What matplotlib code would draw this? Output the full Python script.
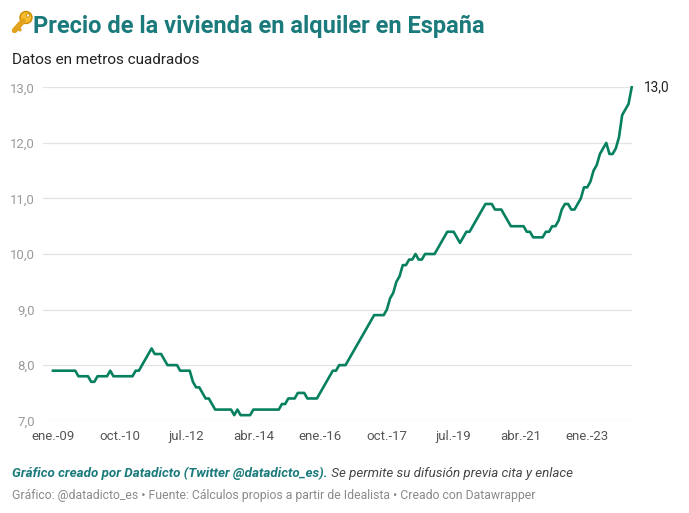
import numpy as np
import matplotlib
matplotlib.use("Agg")
import matplotlib.pyplot as plt
from matplotlib.patches import Circle

plt.rcParams['font.family'] = ['Roboto', 'DejaVu Sans']

# monthly rent price (EUR/m2), Jan 2009 .. Mar 2024
precio = [
    7.9, 7.9, 7.9, 7.9, 7.9, 7.9, 7.9, 7.9, 7.8, 7.8, 7.8, 7.8,
    7.7, 7.7, 7.8, 7.8, 7.8, 7.8, 7.9, 7.8, 7.8, 7.8, 7.8, 7.8,
    7.8, 7.8, 7.9, 7.9, 8.0, 8.1, 8.2, 8.3, 8.2, 8.2, 8.2, 8.1,
    8.0, 8.0, 8.0, 8.0, 7.9, 7.9, 7.9, 7.9, 7.7, 7.6, 7.6, 7.5,
    7.4, 7.4, 7.3, 7.2, 7.2, 7.2, 7.2, 7.2, 7.2, 7.1, 7.2, 7.1,
    7.1, 7.1, 7.1, 7.2, 7.2, 7.2, 7.2, 7.2, 7.2, 7.2, 7.2, 7.2,
    7.3, 7.3, 7.4, 7.4, 7.4, 7.5, 7.5, 7.5, 7.4, 7.4, 7.4, 7.4,
    7.5, 7.6, 7.7, 7.8, 7.9, 7.9, 8.0, 8.0, 8.0, 8.1, 8.2, 8.3,
    8.4, 8.5, 8.6, 8.7, 8.8, 8.9, 8.9, 8.9, 8.9, 9.0, 9.2, 9.3,
    9.5, 9.6, 9.8, 9.8, 9.9, 9.9, 10.0, 9.9, 9.9, 10.0, 10.0, 10.0,
    10.0, 10.1, 10.2, 10.3, 10.4, 10.4, 10.4, 10.3, 10.2, 10.3, 10.4, 10.4,
    10.5, 10.6, 10.7, 10.8, 10.9, 10.9, 10.9, 10.8, 10.8, 10.8, 10.7, 10.6,
    10.5, 10.5, 10.5, 10.5, 10.5, 10.4, 10.4, 10.3, 10.3, 10.3, 10.3, 10.4,
    10.4, 10.5, 10.5, 10.6, 10.8, 10.9, 10.9, 10.8, 10.8, 10.9, 11.0, 11.2,
    11.2, 11.3, 11.5, 11.6, 11.8, 11.9, 12.0, 11.8, 11.8, 11.9, 12.1, 12.5,
    12.6, 12.7, 13.0,
]
tick_meses = [0, 21, 42, 63, 84, 105, 126, 147, 168]
tick_labels = ["ene.-09", "oct.-10", "jul.-12", "abr.-14", "ene.-16",
               "oct.-17", "jul.-19", "abr.-21", "ene.-23"]
y_ticks = [7.0, 8.0, 9.0, 10.0, 11.0, 12.0, 13.0]

W, H = 689, 513
fig = plt.figure(figsize=(W / 100, H / 100), dpi=100)
fig.patch.set_facecolor("white")

teal = "#1b7a7b"
verde = "#07805f"

ax = fig.add_axes([43 / W, 1 - 420.7 / H, (631.7 - 43) / W, (420.7 - 87.3) / H])
meses = np.arange(len(precio))
ax.plot(meses, precio, color=verde, lw=1.9, clip_on=False, zorder=3,
        solid_joinstyle="round")
ax.set_xlim(-10 / 3.18, len(precio) - 1)
ax.set_ylim(7, 13)
ax.set_yticks(y_ticks)
ax.set_yticklabels([f"{v:.1f}".replace(".", ",") for v in y_ticks],
                   color="#9a9a9a", fontsize=9.5)
ax.set_xticks(tick_meses)
ax.set_xticklabels(tick_labels, color="#555555", fontsize=9.5)
ax.tick_params(axis="both", length=0)
ax.tick_params(axis="y", pad=6)
ax.tick_params(axis="x", pad=7)
ax.grid(axis="y", color="#e3e3e3", lw=0.9)
ax.set_axisbelow(True)
for s in ax.spines.values():
    s.set_visible(False)

# last value label
ax.annotate("13,0", xy=(meses[-1], precio[-1]), xytext=(9, 0),
            textcoords="offset points", va="center", ha="left",
            fontsize=9.8, color="#222222")

# key icon (emoji stand-in)
kax = fig.add_axes([12 / W, 1 - 33 / H, 21 / W, 23 / H])
kax.set_xlim(0, 21)
kax.set_ylim(0, 23)
kax.axis("off")
kax.plot([11, 2.5], [12, 2.5], color="#e2a21d", lw=4, solid_capstyle="round")
kax.plot([5.5, 8], [5.5, 3.2], color="#e2a21d", lw=2.5, solid_capstyle="round")
kax.add_patch(Circle((14, 15.5), 6, facecolor="#f6bd2f", edgecolor="#c98a00", lw=1))
kax.add_patch(Circle((16, 17.5), 1.6, facecolor="white", edgecolor="#c98a00", lw=0.6))

fig.text(33 / W, 1 - 33 / H, "Precio de la vivienda en alquiler en España",
         fontsize=17, fontweight="bold", color=teal, va="baseline", ha="left")
fig.text(12 / W, 1 - 64 / H, "Datos en metros cuadrados",
         fontsize=11, color="#222222", va="baseline", ha="left")

t1 = fig.text(12 / W, 1 - 477 / H,
              "Gráfico creado por Datadicto (Twitter @datadicto_es).",
              fontsize=9.6, fontweight="bold", fontstyle="italic", color=teal,
              va="baseline", ha="left")
fig.canvas.draw()
bb = t1.get_window_extent()
fig.text(bb.x1 / W, 1 - 477 / H, " Se permite su difusión previa cita y enlace",
         fontsize=9.6, fontstyle="italic", color="#444444",
         va="baseline", ha="left")
fig.text(12 / W, 1 - 499 / H,
         "Gráfico: @datadicto_es • Fuente: Cálculos propios a partir de Idealista • Creado con Datawrapper",
         fontsize=8.8, color="#8a8a8a", va="baseline", ha="left")

fig.savefig("out.png", dpi=100, facecolor="white")
